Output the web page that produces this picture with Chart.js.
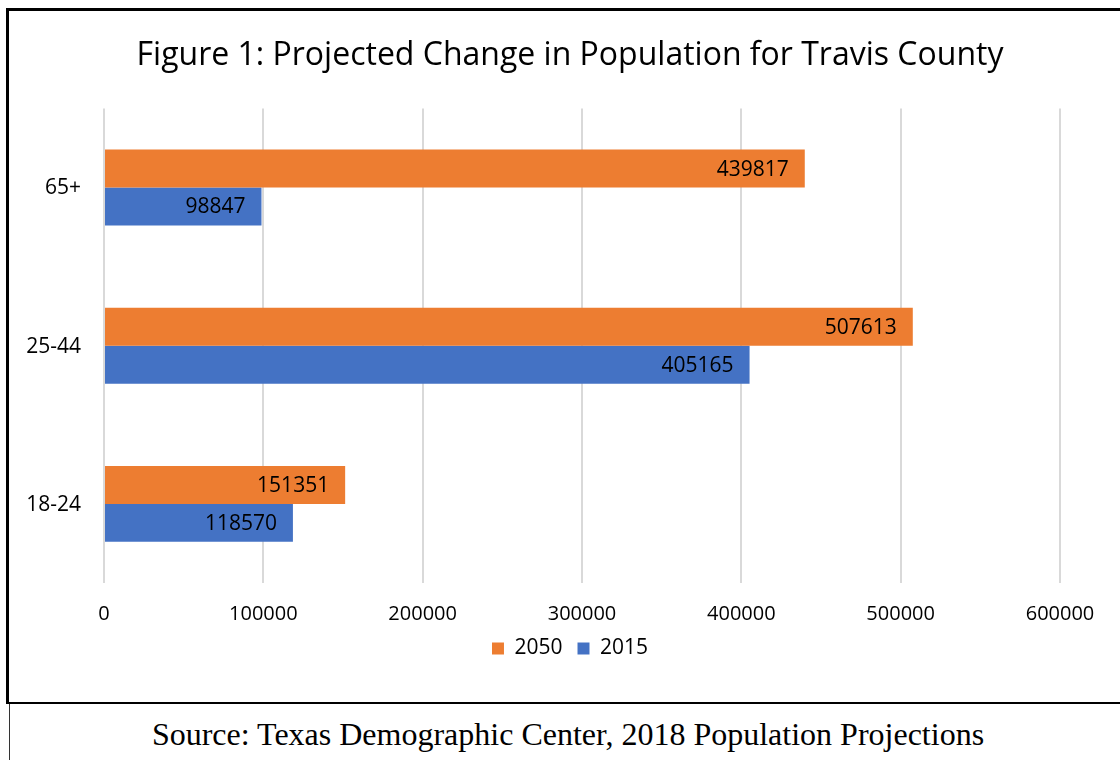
<!DOCTYPE html>
<html>
<head>
<meta charset="utf-8">
<script src="https://cdn.jsdelivr.net/npm/chart.js@4.4.1/dist/chart.umd.min.js"></script>
<style>
  html, body { margin: 0; padding: 0; background: #fff; width: 1120px; height: 760px; overflow: hidden; }
  #box { position: absolute; left: 6px; top: 8px; width: 1114px; height: 696px;
         border-left: 3px solid #000; border-top: 3px solid #000; border-bottom: 2px solid #000; box-sizing: border-box; }
  #wrap { position: absolute; left: 0; top: 0; width: 1120px; height: 700px; }
  #vline { position: absolute; left: 9px; top: 704px; width: 1px; height: 56px; background: #333; }
  #source { position: absolute; left: 0; top: 711px; width: 1136px; text-align: center;
            font-family: "Liberation Serif", "Times New Roman", serif; font-size: 32px; color: #000; line-height: 46px; }
</style>
</head>
<body>
<div id="box"></div>
<div id="wrap"><canvas id="c" width="1120" height="700"></canvas></div>
<div id="vline"></div>
<div id="source">Source: Texas Demographic Center, 2018 Population Projections</div>
<script>
const categories = ["65+", "25-44", "18-24"];
const series2050 = [439817, 507613, 151351];
const series2015 = [98847, 405165, 118570];
const seriesNames = ["2050", "2015"];
const xTicks = [0, 100000, 200000, 300000, 400000, 500000, 600000];

const FONT = '"Open Sans", "Noto Sans", sans-serif';

const barLabels = {
  id: 'barLabels',
  afterDatasetsDraw(chart) {
    const ctx = chart.ctx;
    ctx.save();
    ctx.font = '21px ' + FONT;
    ctx.fillStyle = '#000';
    ctx.textAlign = 'right';
    ctx.textBaseline = 'middle';
    chart.data.datasets.forEach((ds, i) => {
      const meta = chart.getDatasetMeta(i);
      meta.data.forEach((bar, j) => {
        ctx.fillText(String(ds.data[j]), bar.x - 16, bar.y + 1);
      });
    });
    // category labels on the y scale
    const yScale = chart.scales.y;
    chart.data.labels.forEach((lab, i) => {
      ctx.fillText(lab, chart.chartArea.left - 23, yScale.getPixelForTick(i) + 1);
    });
    ctx.restore();
  }
};

new Chart(document.getElementById('c'), {
  type: 'bar',
  data: {
    labels: categories,
    datasets: [
      { label: seriesNames[0], data: series2050, backgroundColor: '#ED7D31' },
      { label: seriesNames[1], data: series2015, backgroundColor: '#4472C4' }
    ]
  },
  options: {
    indexAxis: 'y',
    responsive: false,
    animation: false,
    devicePixelRatio: 1,
    layout: { padding: { left: 80, right: 60, top: 20, bottom: 31 } },
    datasets: { bar: { categoryPercentage: 0.48, barPercentage: 1.0 } },
    scales: {
      x: {
        min: 0, max: 600000,
        afterBuildTicks(scale) { scale.ticks = xTicks.map(v => ({ value: v })); },
        afterFit(scale) { scale.height = 40; },
        grid: { color: '#d9d9d9', lineWidth: 2, drawTicks: false },
        border: { display: false },
        ticks: { padding: 19, color: '#000', font: { family: FONT, size: 20 }, maxRotation: 0, autoSkip: false,
                 callback: (v) => String(v) }
      },
      y: {
        afterFit(scale) { scale.width = 24; },
        grid: { display: false, drawTicks: false },
        border: { display: false },
        ticks: { display: false }
      }
    },
    plugins: {
      title: {
        display: true,
        text: 'Figure 1: Projected Change in Population for Travis County',
        color: '#000',
        font: { family: FONT, size: 32, weight: 'normal' },
        padding: { top: 17, bottom: 33 }
      },
      legend: {
        position: 'bottom',
        labels: { boxWidth: 12, boxHeight: 12, color: '#000', font: { family: FONT, size: 21 }, padding: 15 }
      },
      tooltip: { enabled: false }
    }
  },
  plugins: [barLabels]
});
</script>
</body>
</html>
